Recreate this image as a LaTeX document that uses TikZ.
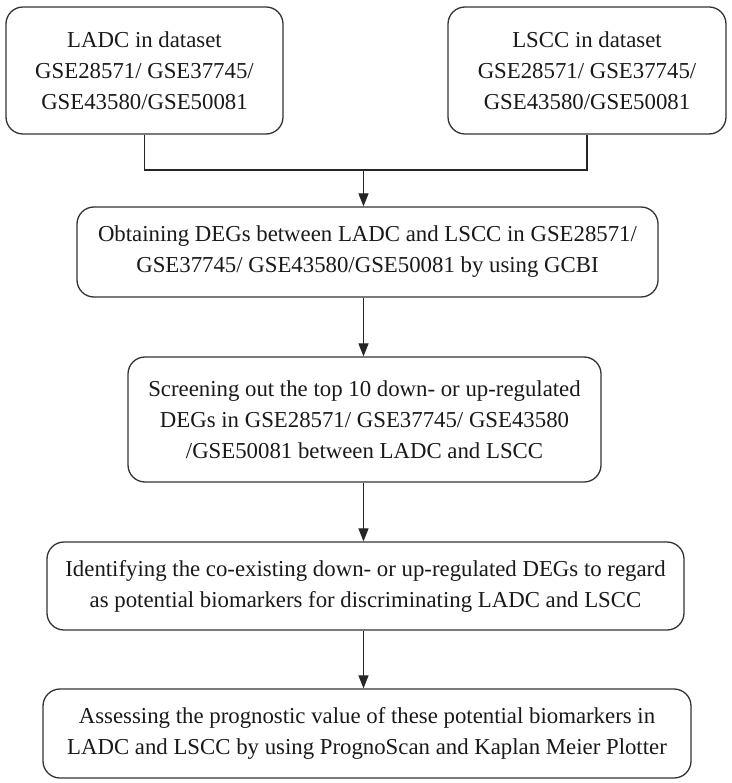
\documentclass[tikz,border=0pt]{standalone}
\usepackage{fontspec}
\setmainfont{Liberation Serif}
\usetikzlibrary{arrows.meta}
\begin{document}
\begin{tikzpicture}[x=1pt,y=-1pt,
  box/.style={draw=black!80, line width=1.3pt, rounded corners=17pt, align=center,
    inner sep=0pt, font=\fontsize{22.8}{31}\selectfont, text=black!90},
  conn/.style={draw=black!85, line width=1.2pt},
  arr/.style={conn, -{Triangle[width=10pt,length=13pt]}}]
\useasboundingbox (0,0) rectangle (731,783);
\node[box, minimum width=277pt, minimum height=127pt] (b1) at (144.5,70.5)
  {LADC in dataset\\GSE28571/ GSE37745/\\GSE43580/GSE50081};
\node[box, minimum width=278pt, minimum height=127pt] (b2) at (587,70.5)
  {LSCC in dataset\\GSE28571/ GSE37745/\\GSE43580/GSE50081};
\node[box, minimum width=581pt, minimum height=90pt] (b3) at (367.5,252)
  {Obtaining DEGs between LADC and LSCC in GSE28571/\\GSE37745/ GSE43580/GSE50081 by using GCBI};
\node[box, minimum width=473pt, minimum height=125pt] (b4) at (364.5,419.5)
  {Screening out the top 10 down- or up-regulated\\DEGs in GSE28571/ GSE37745/ GSE43580\\/GSE50081 between LADC and LSCC};
\node[box, minimum width=637pt, minimum height=88pt] (b5) at (365.5,586)
  {Identifying the co-existing down- or up-regulated DEGs to regard\\as potential biomarkers for discriminating LADC and LSCC};
\node[box, minimum width=648pt, minimum height=89pt] (b6) at (367,733.5)
  {Assessing the prognostic value of these potential biomarkers in\\LADC and LSCC by using PrognoScan and Kaplan Meier Plotter};
\coordinate (m) at (363.5,170);
\draw[conn] (b1.south) |- (m) -| (b2.south);
\draw[arr] (m) -- (m |- b3.north);
\draw[arr] (m |- b3.south) -- (m |- b4.north);
\draw[arr] (m |- b4.south) -- (m |- b5.north);
\draw[arr] (m |- b5.south) -- (m |- b6.north);
\end{tikzpicture}
\end{document}
